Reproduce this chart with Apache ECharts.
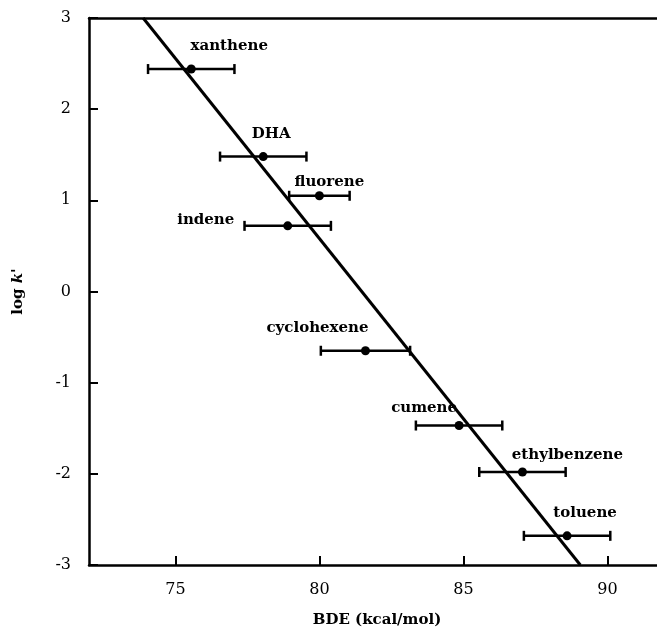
<!DOCTYPE html>
<html>
<head>
<meta charset="utf-8">
<script src="https://cdn.jsdelivr.net/npm/echarts@6/dist/echarts.min.js"></script>
<style>
html,body{margin:0;padding:0;background:#fff;}
#chart{width:657px;height:629px;}
</style>
</head>
<body>
<div id="chart"></div>
<script>
// ---- data ----
const compounds = ['xanthene','DHA','fluorene','indene','cyclohexene','cumene','ethylbenzene','toluene'];
const bde       = [75.55, 78.05, 80.0, 78.9, 81.6, 84.85, 87.05, 88.6];
const logK      = [2.44, 1.48, 1.05, 0.72, -0.65, -1.47, -1.98, -2.68];
const bdeErr    = [1.5, 1.5, 1.05, 1.5, 1.55, 1.5, 1.5, 1.5];
const fitLine   = [[73.88, 3], [89.06, -3]];
const xTicks    = [75, 80, 85, 90];
const yTicks    = [-3, -2, -1, 0, 1, 2, 3];

// ---- label placement (style) ----
const labelOffsets = [[38,-23],[8,-22],[10,-14],[-82,-6],[-48,-23],[-35,-17],[45,-17],[18,-23]];

const serif = '"DejaVu Serif", "Liberation Serif", serif';

const chart = echarts.init(document.getElementById('chart'));

const pointData = compounds.map((n, i) => ({
  name: n,
  value: [bde[i], logK[i]],
  label: {
    show: true,
    position: 'inside',
    offset: labelOffsets[i],
    formatter: n,
    color: '#000',
    textBorderWidth: 0,
    fontFamily: serif,
    fontWeight: 'bold',
    fontSize: 15
  }
}));

const errData = compounds.map((n, i) => [bde[i] - bdeErr[i], bde[i] + bdeErr[i], logK[i]]);

const option = {
  animation: false,
  backgroundColor: '#fff',
  grid: { left: 89, top: 18, bottom: 64, right: -8, containLabel: false, outerBoundsMode: 'none' },
  xAxis: [{
    type: 'value', min: 72, max: 92, position: 'bottom',
    name: 'BDE (kcal/mol)', nameLocation: 'middle', nameGap: 48,
    nameTextStyle: { fontFamily: serif, fontWeight: 'bold', fontSize: 15, color: '#000' },
    splitLine: { show: false },
    axisLine: { show: true, onZero: false, lineStyle: { color: '#000', width: 2.5 } },
    axisTick: { show: true, inside: true, length: 9, customValues: xTicks, lineStyle: { color: '#000', width: 2 } },
    axisLabel: { customValues: xTicks, margin: 17, fontFamily: serif, fontSize: 16, color: '#000' }
  }, {
    type: 'value', min: 72, max: 92, position: 'top',
    splitLine: { show: false },
    axisLine: { show: true, onZero: false, lineStyle: { color: '#000', width: 2.5 } },
    axisTick: { show: false },
    axisLabel: { show: false }
  }],
  yAxis: {
    type: 'value', min: -3, max: 3, interval: 1,
    name: "log {i|k}'", nameLocation: 'middle', nameGap: 63, nameRotate: 90,
    nameTextStyle: { fontFamily: serif, fontWeight: 'bold', fontSize: 15, color: '#000',
      rich: { i: { fontFamily: serif, fontWeight: 'bold', fontStyle: 'italic', fontSize: 15, color: '#000' } } },
    splitLine: { show: false },
    axisLine: { show: true, onZero: false, lineStyle: { color: '#000', width: 2.5 } },
    axisTick: { show: true, inside: true, length: 9, customValues: yTicks, lineStyle: { color: '#000', width: 2 } },
    axisLabel: { customValues: yTicks, margin: 18, fontFamily: serif, fontSize: 16, color: '#000' }
  },
  series: [
    {
      type: 'line', data: fitLine, symbol: 'none', silent: true,
      lineStyle: { color: '#000', width: 3 }, z: 3
    },
    {
      type: 'custom', data: errData, silent: true, z: 4,
      renderItem: function (params, api) {
        const a = api.coord([api.value(0), api.value(2)]);
        const b = api.coord([api.value(1), api.value(2)]);
        const h = 5;
        const st = { stroke: '#000', lineWidth: 2.5 };
        return {
          type: 'group',
          children: [
            { type: 'line', shape: { x1: a[0], y1: a[1], x2: b[0], y2: b[1] }, style: st },
            { type: 'line', shape: { x1: a[0], y1: a[1] - h, x2: a[0], y2: a[1] + h }, style: st },
            { type: 'line', shape: { x1: b[0], y1: b[1] - h, x2: b[0], y2: b[1] + h }, style: st }
          ]
        };
      }
    },
    {
      type: 'scatter', data: pointData, symbol: 'circle', symbolSize: 9,
      itemStyle: { color: '#000', opacity: 1 }, z: 5
    }
  ]
};
chart.setOption(option);
</script>
</body>
</html>
